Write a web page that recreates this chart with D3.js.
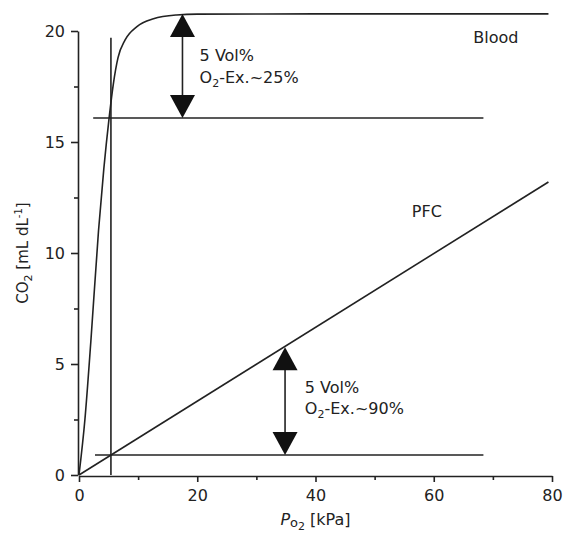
<!DOCTYPE html>
<html><head><meta charset="utf-8">
<script src="https://cdn.jsdelivr.net/npm/d3@7"></script>
<style>
html,body{margin:0;padding:0;background:#fff;}
text{font-family:"DejaVu Sans",Verdana,sans-serif;fill:#222;}
</style></head>
<body>
<svg id="chart" width="563" height="534"></svg>
<script>
// ---- data ----
const xTicks = [0, 20, 40, 60, 80];
const xMinorTicks = [10, 30, 50, 70];
const yTicks = [0, 5, 10, 15, 20];
const yMinorTicks = [2.5, 7.5, 12.5, 17.5];
const bloodCurve = [[0,0],[1,2.5],[2,6],[3.3,11],[4.2,13.8],[5.1,16.1],[5.8,17.6],[6.6,18.8],[7.8,19.6],[9.8,20.2],[12.6,20.55],[16.5,20.72],[20,20.76],[40,20.77],[79.4,20.77]];
const pfcLine = [[0,0],[79.4,13.2]];
const bloodVenous = [[2.4,16.08],[68.4,16.08]];
const pfcVenous = [[2.7,0.9],[68.4,0.9]];
const verticalRef = [[5.4,0],[5.4,19.7]];
const arrows = [
  {x:17.5, top:20.77, bottom:16.08, line1:"5 Vol%", line2:["O","2","-Ex.~25%"], tx:20.4, ty1:18.66, ty2:17.64},
  {x:34.85, top:5.75, bottom:0.9, line1:"5 Vol%", line2:["O","2","-Ex.~90%"], tx:38.2, ty1:3.71, ty2:2.75}
];
const curveLabels = [{text:"Blood", x:66.7, y:19.47},{text:"PFC", x:56.3, y:11.62}];

// ---- scales ----
const svg = d3.select("#chart");
const x = d3.scaleLinear().domain([0,80]).range([79,552]);
const y = d3.scaleLinear().domain([0,20]).range([475,31]);
const ink = "#222";
const fs = 16;

// axes
const gx = svg.append("g").attr("transform","translate(0,476)");
gx.call(d3.axisBottom(x).tickValues(xTicks).tickSize(6).tickSizeOuter(0).tickPadding(7))
  .call(g=>g.selectAll("text").attr("font-size",fs).attr("fill",ink).attr("dy","0.75em"));
gx.append("g").call(d3.axisBottom(x).tickValues(xMinorTicks).tickSize(4).tickFormat(""))
  .call(g=>g.select(".domain").remove());
gx.selectAll("line,path").attr("stroke",ink).attr("stroke-width",1.6);

const gy = svg.append("g").attr("transform","translate(78,0)");
gy.call(d3.axisLeft(y).tickValues(yTicks).tickSize(7).tickSizeOuter(0).tickPadding(6))
  .call(g=>g.selectAll("text").attr("font-size",fs).attr("fill",ink));
gy.append("g").call(d3.axisLeft(y).tickValues(yMinorTicks).tickSize(4).tickFormat(""))
  .call(g=>g.select(".domain").remove());
gy.selectAll("line,path").attr("stroke",ink).attr("stroke-width",1.6);

// axis titles
const xt = svg.append("text").attr("x", x(40)).attr("y", 525).attr("text-anchor","middle").attr("font-size",fs);
xt.append("tspan").attr("font-style","italic").text("P");
xt.append("tspan").attr("font-size",13).attr("dy",2).text("o");
xt.append("tspan").attr("font-size",11).attr("dy",3).text("2");
xt.append("tspan").attr("dy",-5).text(" [kPa]");

const yt = svg.append("text").attr("transform","translate(28,253) rotate(-90)").attr("text-anchor","middle").attr("font-size",15);
yt.append("tspan").text("CO");
yt.append("tspan").attr("font-size",11).attr("dy",4).text("2");
yt.append("tspan").attr("dy",-4).text(" [mL dL");
yt.append("tspan").attr("font-size",10).attr("dy",-6).text("-1");
yt.append("tspan").attr("dy",6).text("]");

// lines
const line = d3.line().x(d=>x(d[0])).y(d=>y(d[1]));
const plot = svg.append("g").attr("fill","none").attr("stroke",ink).attr("stroke-width",1.6);
plot.append("path").attr("d", line.curve(d3.curveMonotoneX)(bloodCurve));
const straight = d3.line().x(d=>x(d[0])).y(d=>y(d[1]));
[pfcLine, bloodVenous, pfcVenous, verticalRef].forEach(d=>plot.append("path").attr("d", straight(d)));

// arrows
const headW = 12.5, headH = 23;
arrows.forEach(a=>{
  const ax = x(a.x), yt0 = y(a.top), yb = y(a.bottom);
  svg.append("line").attr("x1",ax).attr("x2",ax).attr("y1",yt0+headH-2).attr("y2",yb-headH+2)
    .attr("stroke",ink).attr("stroke-width",1.6);
  svg.append("path").attr("fill","#111")
    .attr("d",`M${ax},${yt0}L${ax+headW},${yt0+headH}L${ax-headW},${yt0+headH}Z`);
  svg.append("path").attr("fill","#111")
    .attr("d",`M${ax},${yb}L${ax+headW},${yb-headH}L${ax-headW},${yb-headH}Z`);
  const tx = x(a.tx);
  svg.append("text").attr("x",tx).attr("y",y(a.ty1)).attr("font-size",fs).text(a.line1);
  const t2 = svg.append("text").attr("x",tx).attr("y",y(a.ty2)).attr("font-size",fs);
  t2.append("tspan").text(a.line2[0]);
  t2.append("tspan").attr("font-size",11).attr("dy",4).text(a.line2[1]);
  t2.append("tspan").attr("dy",-4).text(a.line2[2]);
});

curveLabels.forEach(l=>{
  svg.append("text").attr("x",x(l.x)).attr("y",y(l.y)).attr("font-size",fs).text(l.text);
});
</script>
</body></html>
